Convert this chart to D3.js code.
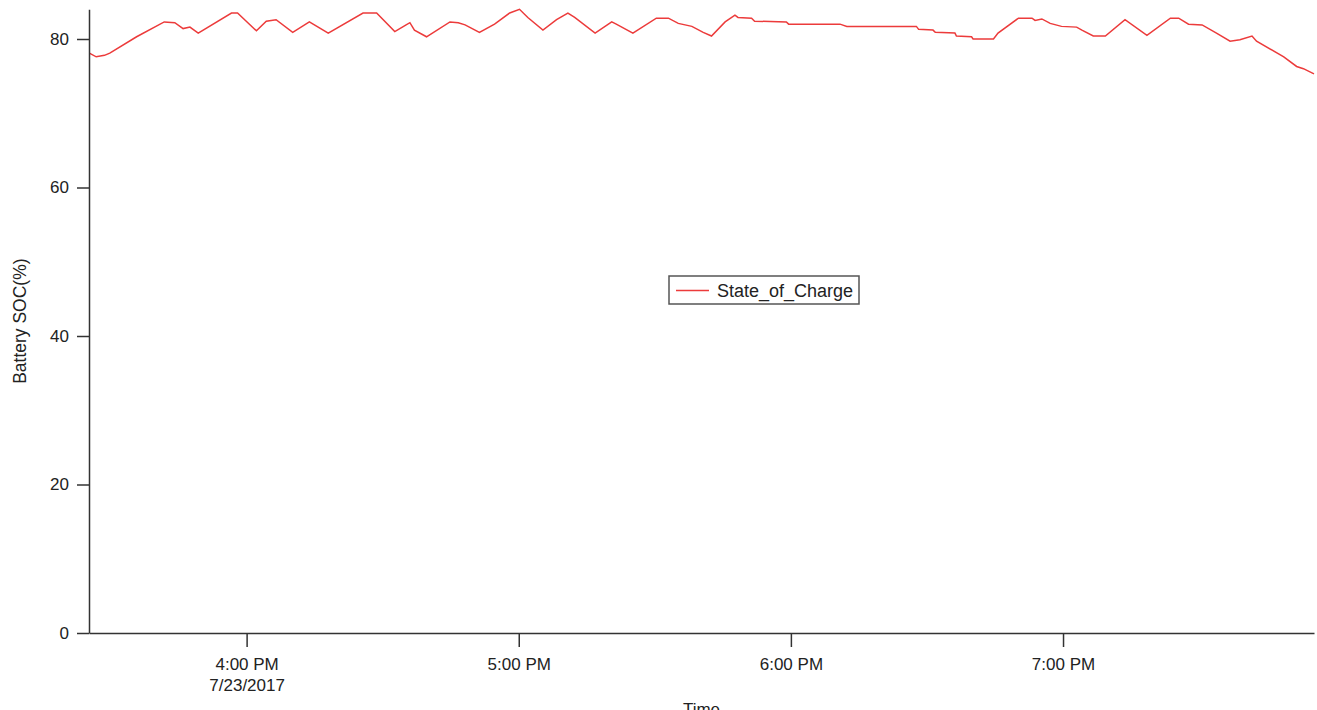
<!DOCTYPE html>
<html>
<head>
<meta charset="utf-8">
<script src="https://cdn.jsdelivr.net/npm/d3@7"></script>
<style>
  body { margin: 0; background: #fff; }
  svg { font-family: "Liberation Sans", Arial, sans-serif; }
</style>
</head>
<body>
<div id="chart"></div>
<script>
// State of charge readings, 7/23/2017
const times = [
    "15:25:20", "15:26:50", "15:28:40", "15:29:50", "15:35:45", "15:41:50", "15:44:10", "15:46:00",
    "15:47:30", "15:49:20", "15:56:40", "15:58:00", "16:02:10", "16:04:20", "16:06:30", "16:10:10",
    "16:13:50", "16:18:00", "16:25:40", "16:28:40", "16:32:40", "16:35:10", "16:36:00", "16:37:00",
    "16:39:40", "16:44:50", "16:46:40", "16:48:10", "16:51:20", "16:54:40", "16:58:00", "17:00:10",
    "17:02:00", "17:05:20", "17:08:20", "17:10:50", "17:12:20", "17:16:50", "17:20:30", "17:21:30",
    "17:25:10", "17:30:20", "17:33:00", "17:35:10", "17:38:10", "17:40:40", "17:42:30", "17:45:30",
    "17:47:40", "17:48:20", "17:51:20", "17:52:00", "17:59:00", "17:59:30", "18:10:50", "18:12:20",
    "18:27:40", "18:28:10", "18:31:20", "18:31:50", "18:36:10", "18:36:30", "18:39:50", "18:40:10",
    "18:44:40", "18:45:40", "18:50:10", "18:53:10", "18:53:50", "18:55:20", "18:57:10", "18:59:40",
    "19:03:00", "19:04:10", "19:06:40", "19:09:20", "19:13:40", "19:18:30", "19:23:40", "19:25:30",
    "19:27:40", "19:30:40", "19:33:50", "19:36:50", "19:39:00", "19:41:40", "19:42:40", "19:48:40",
    "19:51:30", "19:53:00", "19:55:20"
];
const soc = [
    78.1, 77.6, 77.8, 78.1, 80.3, 82.3, 82.2, 81.4,
    81.6, 80.8, 83.5, 83.5, 81.1, 82.4, 82.6, 80.9,
    82.3, 80.8, 83.5, 83.5, 81.0, 81.9, 82.2, 81.2,
    80.3, 82.3, 82.2, 81.9, 80.9, 82.0, 83.5, 84.0,
    82.9, 81.2, 82.6, 83.5, 82.9, 80.8, 82.3, 82.0,
    80.8, 82.8, 82.8, 82.1, 81.7, 80.9, 80.4, 82.3,
    83.2, 82.9, 82.8, 82.4, 82.3, 82.0, 82.0, 81.7,
    81.7, 81.3, 81.2, 80.9, 80.8, 80.4, 80.3, 80.0,
    80.0, 80.8, 82.8, 82.8, 82.5, 82.7, 82.1, 81.7,
    81.6, 81.2, 80.4, 80.4, 82.6, 80.5, 82.8, 82.8,
    82.0, 81.9, 80.8, 79.7, 79.9, 80.4, 79.7, 77.6,
    76.3, 76.0, 75.3
];
const day = "2017-07-23";
const timeRange = ["15:25:15", "19:55:20"];
const yTicks = [0, 20, 40, 60, 80];
const seriesName = "State_of_Charge";

const parse = d3.timeParse("%Y-%m-%d %H:%M:%S");
const data = times.map((t, i) => ({ time: parse(day + " " + t), value: soc[i] }));

const totalWidth = 1317, totalHeight = 710;
const margin = {top: 9.3, right: 3, bottom: 77, left: 89},
    width = totalWidth - margin.left - margin.right,
    height = totalHeight - margin.top - margin.bottom;

const svg = d3.select("#chart")
    .append("svg")
    .attr("width", totalWidth)
    .attr("height", totalHeight)
    .append("g")
    .attr("transform", "translate(" + margin.left + "," + margin.top + ")");

const xScale = d3.scaleTime()
    .domain(timeRange.map(t => parse(day + " " + t)))
    .range([0, width]);

const yScale = d3.scaleLinear()
    .domain([0, 84])
    .range([height, 0]);

// Line
const line = d3.line()
    .x(d => xScale(d.time))
    .y(d => yScale(d.value));

svg.append("path")
    .datum(data)
    .attr("fill", "none")
    .attr("stroke", "#ec3b3b")
    .attr("stroke-width", 1.5)
    .attr("d", line);

// X axis
const timeFmt = d3.timeFormat("%-I:%M %p");
const xAxis = svg.append("g")
    .attr("transform", "translate(0," + height + ")")
    .call(d3.axisBottom(xScale)
        .ticks(d3.timeHour.every(1))
        .tickSize(14)
        .tickPadding(11)
        .tickSizeOuter(0)
        .tickFormat(timeFmt));

xAxis.selectAll("text")
    .attr("font-size", 17)
    .attr("fill", "#222")
    .each(function(d, i) {
        if (i === 0) {
            d3.select(this).append("tspan")
                .attr("x", 0)
                .attr("dy", "1.25em")
                .text(d3.timeFormat("%-m/%-d/%Y")(d));
        }
    });

// Y axis
const yAxis = svg.append("g")
    .call(d3.axisLeft(yScale)
        .tickValues(yTicks)
        .tickSize(12)
        .tickPadding(8)
        .tickSizeOuter(0));

yAxis.selectAll("text")
    .attr("font-size", 17)
    .attr("fill", "#222");

svg.selectAll(".domain, .tick line")
    .attr("stroke", "#333")
    .attr("stroke-width", 1.5);

// Axis labels
svg.append("text")
    .attr("x", width / 2)
    .attr("y", height + 82)
    .attr("text-anchor", "middle")
    .attr("font-size", 17)
    .attr("fill", "#222")
    .text("Time");

svg.append("text")
    .attr("x", -height / 2)
    .attr("y", -margin.left + 26)
    .attr("text-anchor", "middle")
    .attr("transform", "rotate(-90)")
    .attr("font-size", 17.5)
    .attr("fill", "#222")
    .text("Battery SOC(%)");

// Legend
const legend = svg.append("g")
    .attr("transform", "translate(" + (669 - margin.left) + "," + (276 - margin.top) + ")");

legend.append("rect")
    .attr("width", 190)
    .attr("height", 28)
    .attr("fill", "#fff")
    .attr("stroke", "#555")
    .attr("stroke-width", 1.5);

legend.append("line")
    .attr("x1", 7)
    .attr("x2", 40)
    .attr("y1", 14.5)
    .attr("y2", 14.5)
    .attr("stroke", "#ec3b3b")
    .attr("stroke-width", 1.5);

legend.append("text")
    .attr("x", 48)
    .attr("y", 14.5)
    .attr("dy", ".35em")
    .attr("font-size", 18)
    .attr("fill", "#222")
    .text(seriesName);
</script>
</body>
</html>
